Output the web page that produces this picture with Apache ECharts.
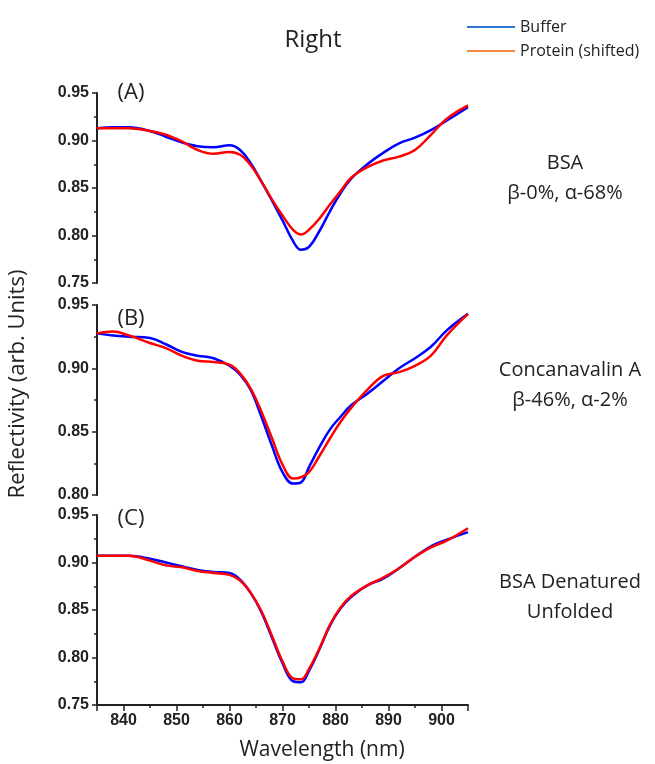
<!DOCTYPE html>
<html>
<head>
<meta charset="utf-8">
<title>Right</title>
<script src="https://cdn.jsdelivr.net/npm/echarts@6/dist/echarts.min.js"></script>
<style>
  html, body { margin: 0; padding: 0; background: #fff; }
  #chart { width: 655px; height: 764px; }
</style>
</head>
<body>
<div id="chart"></div>
<script>
// wavelength grid (nm), shared by all three panels
var wavelength = [835, 838, 841, 845, 848, 851, 854, 857, 860, 862, 864, 866, 868, 870, 872, 873.5, 875, 877, 879, 881, 883, 886, 889, 892, 895, 898, 901, 905];

// (A) BSA
var bufferA  = [0.913, 0.914, 0.914, 0.910, 0.904, 0.898, 0.894, 0.893, 0.895, 0.890, 0.876, 0.857, 0.837, 0.816, 0.794, 0.785, 0.788, 0.805, 0.826, 0.845, 0.860, 0.875, 0.887, 0.897, 0.903, 0.911, 0.921, 0.935];
var proteinA = [0.913, 0.913, 0.913, 0.910, 0.906, 0.899, 0.890, 0.886, 0.888, 0.885, 0.874, 0.857, 0.838, 0.821, 0.806, 0.801, 0.806, 0.818, 0.833, 0.847, 0.861, 0.872, 0.879, 0.883, 0.890, 0.906, 0.923, 0.937];

// (B) Concanavalin A
var bufferB  = [0.9276, 0.926, 0.925, 0.924, 0.919, 0.913, 0.910, 0.908, 0.902, 0.895, 0.883, 0.862, 0.839, 0.818, 0.809, 0.810, 0.822, 0.838, 0.852, 0.862, 0.871, 0.880, 0.890, 0.900, 0.908, 0.917, 0.930, 0.943];
var proteinB = [0.9276, 0.929, 0.926, 0.920, 0.916, 0.910, 0.906, 0.905, 0.903, 0.896, 0.884, 0.866, 0.845, 0.824, 0.813, 0.814, 0.818, 0.831, 0.845, 0.858, 0.869, 0.883, 0.894, 0.897, 0.902, 0.910, 0.926, 0.943];

// (C) BSA denatured
var bufferC  = [0.907, 0.907, 0.907, 0.904, 0.900, 0.896, 0.892, 0.890, 0.889, 0.882, 0.868, 0.848, 0.821, 0.794, 0.775, 0.774, 0.786, 0.809, 0.834, 0.852, 0.864, 0.876, 0.883, 0.894, 0.906, 0.917, 0.924, 0.932];
var proteinC = [0.907, 0.907, 0.907, 0.902, 0.897, 0.895, 0.891, 0.889, 0.887, 0.881, 0.868, 0.849, 0.823, 0.796, 0.778, 0.777, 0.788, 0.810, 0.835, 0.853, 0.865, 0.876, 0.884, 0.894, 0.906, 0.916, 0.923, 0.936];

var yTicksAC = [0.75, 0.95];
var yTicksB = [0.80, 0.95];

var seriesNames = ['Buffer', 'Protein (shifted)'];
var annotations = ['BSA\nβ-0%, α-68%', 'Concanavalin A\nβ-46%, α-2%', 'BSA Denatured\nUnfolded'];

function pair(arr) {
    var out = [];
    for (var i = 0; i < wavelength.length; i++) {
        out.push([wavelength[i], arr[i]]);
    }
    return out;
}

var tickFont = { fontFamily: 'Liberation Sans, Arial', fontWeight: 'bold', fontSize: 16, color: '#222' };
var textFont = 'Open Sans';

function makeY(idx, range) {
    return {
        gridIndex: idx,
        type: 'value',
        min: range[0],
        max: range[1],
        interval: 0.05,
        axisLine: { show: true, lineStyle: { color: '#222', width: 2 } },
        axisTick: { show: true, length: 5, lineStyle: { color: '#222', width: 1.5 } },
        minorTick: { show: true, splitNumber: 2, length: 3, lineStyle: { color: '#222', width: 1.5 } },
        splitLine: { show: false },
        axisLabel: Object.assign({ margin: 8, formatter: function (v) { return v.toFixed(2); } }, tickFont)
    };
}

function makeX(idx, visible) {
    return {
        gridIndex: idx,
        type: 'value',
        min: 835,
        max: 905,
        splitNumber: 7,
        show: visible,
        axisLine: { show: true, onZero: false, lineStyle: { color: '#222', width: 2 } },
        axisTick: { show: true, length: 6, lineStyle: { color: '#222', width: 1.5 } },
        minorTick: { show: true, splitNumber: 2, length: 3, lineStyle: { color: '#222', width: 1.5 } },
        splitLine: { show: false },
        axisLabel: Object.assign({ margin: 8, showMinLabel: false, showMaxLabel: false }, tickFont)
    };
}

function makeLine(name, idx, arr, color) {
    return {
        name: name,
        type: 'line',
        xAxisIndex: idx,
        yAxisIndex: idx,
        data: pair(arr),
        smooth: 0.4,
        showSymbol: false,
        lineStyle: { color: color, width: 2.5 },
        itemStyle: { color: color },
        emphasis: { disabled: true }
    };
}

var chart = echarts.init(document.getElementById('chart'));

var option = {
    animation: false,
    backgroundColor: '#fff',
    legend: {
        orient: 'vertical',
        left: 462,
        top: 12,
        itemWidth: 48,
        itemHeight: 2,
        itemGap: 4,
        icon: 'rect',
        textStyle: { fontFamily: textFont, fontSize: 16, color: '#222', lineHeight: 20 },
        data: [
            { name: seriesNames[0], itemStyle: { color: '#2F75D6' } },
            { name: seriesNames[1], itemStyle: { color: '#F5873A' } }
        ]
    },
    grid: [
        { left: 97, right: 187, top: 93, height: 190 },
        { left: 97, right: 187, top: 305, height: 190 },
        { left: 97, right: 187, top: 515, height: 190 }
    ],
    xAxis: [makeX(0, false), makeX(1, false), makeX(2, true)],
    yAxis: [makeY(0, yTicksAC), makeY(1, yTicksB), makeY(2, yTicksAC)],
    series: [
        makeLine(seriesNames[0], 0, bufferA, '#0000FF'),
        makeLine(seriesNames[1], 0, proteinA, '#FF0000'),
        makeLine(seriesNames[0], 1, bufferB, '#0000FF'),
        makeLine(seriesNames[1], 1, proteinB, '#FF0000'),
        makeLine(seriesNames[0], 2, bufferC, '#0000FF'),
        makeLine(seriesNames[1], 2, proteinC, '#FF0000')
    ],
    graphic: [
        { type: 'text', x: 313, y: 40, style: { text: 'Right', font: '24px "Open Sans"', fill: '#222', textAlign: 'center', textVerticalAlign: 'middle' } },
        { type: 'text', x: 131, y: 93, style: { text: '(A)', font: '22px "Open Sans"', fill: '#222', textAlign: 'center', textVerticalAlign: 'middle' } },
        { type: 'text', x: 131, y: 319, style: { text: '(B)', font: '22px "Open Sans"', fill: '#222', textAlign: 'center', textVerticalAlign: 'middle' } },
        { type: 'text', x: 131, y: 519, style: { text: '(C)', font: '22px "Open Sans"', fill: '#222', textAlign: 'center', textVerticalAlign: 'middle' } },
        { type: 'text', x: 565, y: 178, style: { text: annotations[0], font: '20px "Open Sans"', lineHeight: 30, fill: '#222', textAlign: 'center', textVerticalAlign: 'middle' } },
        { type: 'text', x: 570, y: 385, style: { text: annotations[1], font: '20px "Open Sans"', lineHeight: 30, fill: '#222', textAlign: 'center', textVerticalAlign: 'middle' } },
        { type: 'text', x: 570, y: 597, style: { text: annotations[2], font: '20px "Open Sans"', lineHeight: 30, fill: '#222', textAlign: 'center', textVerticalAlign: 'middle' } },
        { type: 'text', x: 18, y: 384, rotation: Math.PI / 2, style: { text: 'Reflectivity (arb. Units)', font: '22px "Open Sans"', fill: '#222', textAlign: 'center', textVerticalAlign: 'middle' } },
        { type: 'text', x: 322, y: 750, style: { text: 'Wavelength (nm)', font: '21px "Open Sans"', fill: '#222', textAlign: 'center', textVerticalAlign: 'middle' } }
    ]
};

chart.setOption(option);
</script>
</body>
</html>
